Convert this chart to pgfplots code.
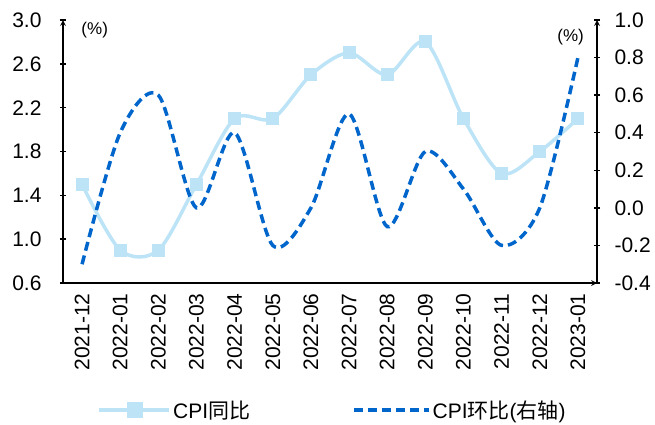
\documentclass[border=0pt]{standalone}
\usepackage{pgfplots}
\pgfplotsset{compat=1.18}
\usepackage{fontspec}
\setmainfont{Liberation Sans}
\newfontfamily\cjk{Noto Sans CJK SC}
\definecolor{lblue}{RGB}{189,227,247}
\definecolor{dblue}{RGB}{0,102,204}
\begin{document}
\begin{tikzpicture}
\pgfplotsset{
  every axis/.append style={
    at={(0pt,0pt)}, anchor=south west,
    scale only axis, width=534pt, height=263pt,
    xmin=-0.5, xmax=13.5,
    /pgf/number format/assume math mode=true,
    tick label style={font=\fontsize{21}{24}\selectfont, black},
    axis line style={black, line width=1.6pt},
    tick style={black, line width=1.4pt},
    tick align=outside, major tick length=6pt,
    yticklabel style={/pgf/number format/fixed, /pgf/number format/fixed zerofill, /pgf/number format/precision=1},
  }
}
\begin{axis}[
  axis x line=bottom, axis y line=left,
  ymin=0.6, ymax=3.0, ytick={0.6,1.0,...,3.0},
  y tick label style={xshift=-15pt},
  xtick={0,...,13},
  xticklabels={2021-12,2022-01,2022-02,2022-03,2022-04,2022-05,2022-06,2022-07,2022-08,2022-09,2022-10,2022-11,2022-12,2023-01},
  x tick label style={rotate=90, anchor=east, xshift=-4pt},
  x tick style={draw=none},
  extra x ticks={-0.5,0.5,...,13.5},
  extra x tick labels={},
  extra x tick style={tick style={draw=black, line width=1.4pt}, major tick length=4.5pt},
  legend style={draw=none, fill=none, at={(0.505,-0.483)}, anchor=center,
    legend columns=2, font=\fontsize{21}{24}\selectfont,
    /tikz/every even column/.append style={column sep=100pt}},
  legend cell align=left,
  clip=false,
]
\addplot[lblue, line width=3.5pt, smooth, mark=square*, mark size=6pt,
  mark options={fill=lblue, draw=lblue, line width=0pt},
  legend image code/.code={\draw[lblue, line width=3.5pt] (0pt,0pt) -- (70pt,0pt);
    \fill[lblue] (29pt,-6.5pt) rectangle (42pt,6.5pt);}]
  coordinates {(0,1.5)(1,0.9)(2,0.9)(3,1.5)(4,2.1)(5,2.1)(6,2.5)(7,2.7)(8,2.5)(9,2.8)(10,2.1)(11,1.6)(12,1.8)(13,2.1)};
\addlegendentry{CPI{\cjk 同比}}
\addlegendimage{legend image code/.code={\draw[dblue, line width=3.5pt, dash pattern=on 9pt off 5pt] (0pt,0pt) -- (75pt,0pt);}}
\addlegendentry{CPI{\cjk 环比}({\cjk 右轴})}
\node[anchor=north west, font=\fontsize{17}{20}\selectfont] at (rel axis cs:0.028,1.005) {(\%)};
\end{axis}
\begin{axis}[
  axis x line=none, axis y line=right,
  ymin=-0.4, ymax=1.0, ytick={-0.4,-0.2,...,1.0},
  y tick label style={xshift=11pt},
  clip=false,
]
\addplot[dblue, line width=3.5pt, smooth, dash pattern=on 9pt off 5pt]
  coordinates {(0,-0.3)(1,0.4)(2,0.6)(3,0.0)(4,0.4)(5,-0.2)(6,0.0)(7,0.5)(8,-0.1)(9,0.3)(10,0.1)(11,-0.2)(12,0.0)(13,0.8)};
\node[anchor=north east, font=\fontsize{17}{20}\selectfont] at (rel axis cs:0.982,0.98) {(\%)};
\end{axis}
\pgfresetboundingbox
\path[use as bounding box] (-63pt,-141pt) rectangle (592pt,283pt);
\end{tikzpicture}
\end{document}
